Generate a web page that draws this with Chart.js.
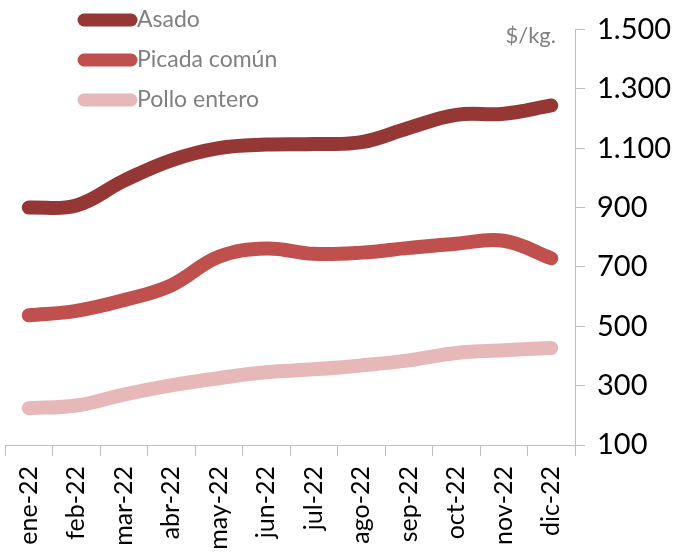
<!DOCTYPE html>
<html>
<head>
<meta charset="utf-8">
<script src="https://cdn.jsdelivr.net/npm/chart.js@4"></script>
<style>
  body { margin: 0; background: #fff; }
  #wrap { position: relative; width: 683px; height: 552px; }
</style>
</head>
<body>
<div id="wrap"><canvas id="chartPrecios"></canvas></div>
<script>
// datos ($/kg.)
const meses = ['ene-22','feb-22','mar-22','abr-22','may-22','jun-22','jul-22','ago-22','sep-22','oct-22','nov-22','dic-22'];
const asado = [900, 907, 990, 1059, 1100, 1112, 1114, 1120, 1168, 1212, 1216, 1244];
const picada = [537, 552, 588, 638, 734, 762, 744, 748, 764, 778, 788, 729];
const pollo = [224, 233, 270, 301, 325, 345, 355, 368, 385, 410, 419, 427];
const series = ['Asado', 'Picada común', 'Pollo entero'];
const colores = ['#953735', '#C0504D', '#E6B9B8'];

const fmtMiles = v => String(v).replace(/\B(?=(\d{3})+(?!\d))/g, '.');

// leyenda vertical y la unidad, dibujadas sobre el canvas
const leyendaPlugin = {
  id: 'leyenda',
  afterDraw(chart) {
    const ctx = chart.ctx;
    ctx.save();
    chart.data.datasets.forEach((ds, i) => {
      const y = 20 + i * 40;
      ctx.strokeStyle = ds.borderColor;
      ctx.lineWidth = 13;
      ctx.lineCap = 'round';
      ctx.beginPath(); ctx.moveTo(84, y); ctx.lineTo(131, y); ctx.stroke();
      ctx.fillStyle = '#808080';
      ctx.font = '23px Lato';
      ctx.textBaseline = 'middle';
      ctx.fillText(ds.label, 137, y);
    });
    ctx.font = '22px Lato';
    ctx.fillStyle = '#808080';
    ctx.textAlign = 'right';
    ctx.fillText('$/kg.', 556, 36);
    ctx.restore();
  }
};

const ctx = document.getElementById('chartPrecios').getContext('2d');
new Chart(ctx, {
  type: 'line',
  data: {
    labels: meses,
    datasets: [asado, picada, pollo].map((d, i) => ({
      label: series[i], data: d, borderColor: colores[i], backgroundColor: colores[i],
      borderWidth: 14, borderCapStyle: 'round', borderJoinStyle: 'round',
      pointRadius: 0, tension: 0.4, fill: false
    }))
  },
  options: {
    responsive: true, maintainAspectRatio: false, animation: false,
    layout: { padding: { top: 29, left: 5, right: 0, bottom: 0 } },
    plugins: { legend: { display: false }, tooltip: { enabled: false } },
    scales: {
      x: {
        offset: true,
        grid: { offset: true, drawOnChartArea: false, color: '#bfbfbf', tickLength: 11, lineWidth: 1 },
        border: { color: '#bfbfbf', width: 1 },
        ticks: { minRotation: 90, maxRotation: 90, padding: 10, color: '#000', font: { family: 'Lato', size: 25 } },
        afterFit: s => { s.height = 107; }
      },
      y: {
        position: 'right', min: 100, max: 1500,
        grid: { drawOnChartArea: false, color: '#bfbfbf', tickLength: 10 },
        border: { color: '#bfbfbf', width: 1 },
        ticks: { stepSize: 200, padding: 12, color: '#000', font: { family: 'Lato', size: 29 }, callback: v => fmtMiles(v) },
        afterFit: s => { s.width = 108; }
      }
    }
  },
  plugins: [leyendaPlugin]
});
</script>
</body>
</html>
